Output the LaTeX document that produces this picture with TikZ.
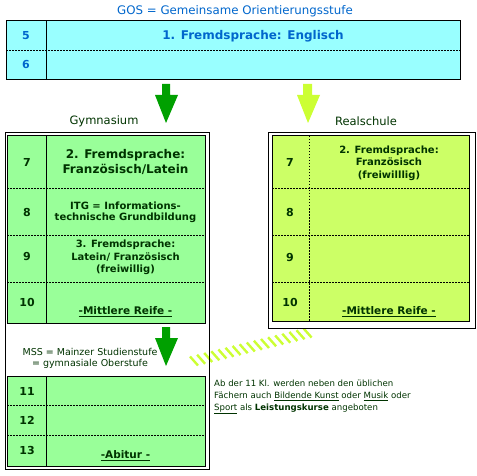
\documentclass[tikz,border=0pt]{standalone}
\usepackage{fontspec}
\setmainfont{DejaVu Sans}
\definecolor{cyanfill}{HTML}{99FFFF}
\definecolor{bluetext}{HTML}{0066CC}
\definecolor{greenfill}{HTML}{99FF99}
\definecolor{limefill}{HTML}{CCFF66}
\definecolor{darktext}{HTML}{003300}
\definecolor{arrowgreen}{HTML}{00A000}
\definecolor{arrowlime}{HTML}{CCFF33}
\begin{document}
\begin{tikzpicture}[x=1pt,y=-1pt,
  box/.style={draw=black,line width=1pt},
  dotline/.style={draw=black,line width=0.9pt,dash pattern=on 1.5pt off 1.5pt},
  txt/.style={inner sep=0pt,text=darktext,align=center},
  num/.style={txt,font=\bfseries\fontsize{11}{13}\selectfont},
  big/.style={txt,font=\bfseries\fontsize{12}{15}\selectfont},
  mid/.style={txt,font=\bfseries\fontsize{10}{12.5}\selectfont},
  lbl/.style={txt,font=\fontsize{11.5}{14}\selectfont},
  small/.style={txt,anchor=west,font=\fontsize{8.6}{10}\selectfont},
  hatch/.style={draw=arrowlime,line width=2.4pt}]
\useasboundingbox (0,0) rectangle (477,476);

% ---------- GOS ----------
\node[txt,text=bluetext,font=\fontsize{11.8}{14}\selectfont] (gos) at (235,11) {GOS = Gemeinsame Orientierungsstufe};
\filldraw[box,fill=cyanfill] (6,21) rectangle (460,80);
\draw[box] (46,21) -- (46,80);
\draw[dotline] (6,50) -- (460,50);
\node[num,text=bluetext] (g5) at (26,36) {5};
\node[num,text=bluetext] (g6) at (26,65) {6};
\node[big,text=bluetext] (engl) at (253,36) {1. Fremdsprache: Englisch};

% ---------- arrows ----------
\fill[arrowgreen] (162,84) -- (170,84) -- (170,95) -- (178,95) -- (166,123) -- (155,95) -- (162,95) -- cycle;
\fill[arrowlime] (303,84) -- (312,84) -- (312,95) -- (320,95) -- (308,123) -- (297,95) -- (303,95) -- cycle;

\node[lbl] (gymlbl) at (104,121) {Gymnasium};
\node[lbl] (reallbl) at (366,121) {Realschule};

% ---------- Gymnasium ----------
\fill[white] (5,133) rectangle (209,469);
% hatch band
\foreach \i in {0,...,16}{
  \pgfmathsetmacro{\px}{194+\i*7.1}
  \pgfmathsetmacro{\py}{361-\i*1.75}
  \draw[hatch] (\px-4,\py-4.5) -- (\px+4,\py+4.5);
}
\draw[box] (5,133) rectangle (209,469);
\filldraw[box,fill=greenfill] (7,136) rectangle (205,323);
\draw[box] (46,136) -- (46,323);
\foreach \yy in {188,235,282}{\draw[dotline] (7,\yy) -- (205,\yy);}
\node[num] (n7) at (27,162) {7};
\node[num] (n8) at (27,212) {8};
\node[num] (n9) at (27,257) {9};
\node[num] (n10) at (27,302) {10};
\node[big] (g7) at (125.5,161.5) {2. Fremdsprache:\\Französisch/Latein};
\node[mid,font=\bfseries\fontsize{10}{11.5}\selectfont] (g8) at (125.5,212.5) {ITG = Informations-\\technische Grundbildung};
\node[mid] (g9) at (125.5,257.5) {3. Fremdsprache:\\Latein/ Französisch\\(freiwillig)};
\node[mid,font=\bfseries\fontsize{10.5}{12.5}\selectfont] (g10) at (125.5,312) {\underline{-Mittlere Reife -}};

\fill[arrowgreen] (162,327) -- (170,327) -- (170,338) -- (178,338) -- (166,366) -- (155,338) -- (162,338) -- cycle;
\node[txt,font=\fontsize{9.5}{11}\selectfont] (mss) at (90,358.5) {MSS = Mainzer Studienstufe\\= gymnasiale Oberstufe};

\filldraw[box,fill=greenfill] (7,376) rectangle (205,466);
\draw[box] (46,376) -- (46,466);
\foreach \yy in {405,435}{\draw[dotline] (7,\yy) -- (205,\yy);}
\node[num] (n11) at (27,391) {11};
\node[num] (n12) at (27,420) {12};
\node[num] (n13) at (27,450) {13};
\node[mid,font=\bfseries\fontsize{10.5}{12.5}\selectfont] (abi) at (125.5,456) {\underline{-Abitur -}};

% ---------- Realschule ----------
\filldraw[box,fill=white] (268,133) rectangle (475,328);
\filldraw[box,fill=limefill] (272,136) rectangle (469,321);
\draw[dotline] (309,136) -- (309,321);
\foreach \yy in {188,235,282}{\draw[dotline] (272,\yy) -- (469,\yy);}
\node[num] (r7) at (290,162) {7};
\node[num] (r8) at (290,212) {8};
\node[num] (r9) at (290,258) {9};
\node[num] (r10) at (290,302) {10};
\node[mid] (rt7) at (389,163) {2. Fremdsprache:\\Französisch\\(freiwilllig)};
\node[mid,font=\bfseries\fontsize{10.5}{12.5}\selectfont] (rt10) at (389,312) {\underline{-Mittlere Reife -}};

% ---------- note ----------
\node[small] (note1) at (214,383) {Ab der 11 Kl. werden neben den üblichen};
\node[small] (note2) at (214,396) {Fächern auch \underline{Bildende Kunst} oder \underline{Musik} oder};
\node[small] (note3) at (214,409) {\underline{Sport} als \textbf{Leistungskurse} angeboten};
\end{tikzpicture}
\end{document}
